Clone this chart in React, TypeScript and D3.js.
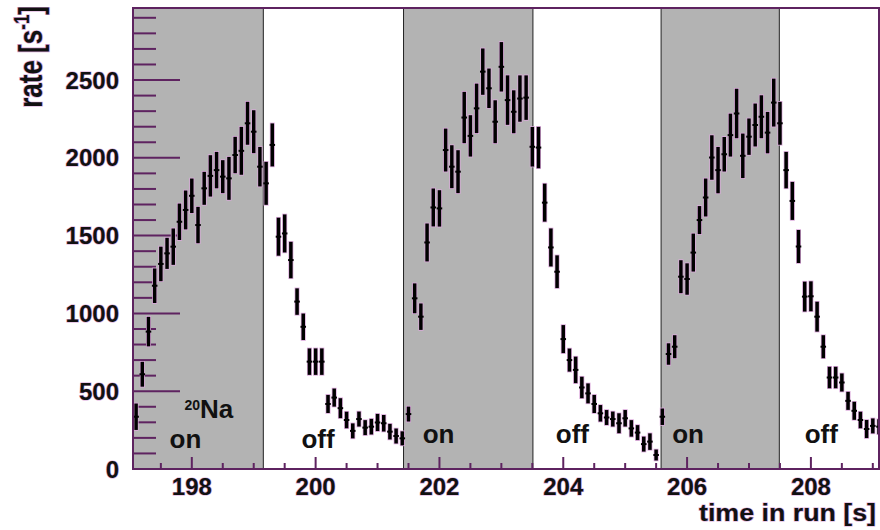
import React from "react";
import * as d3 from "d3";

// histogram: bin centres at binStart + binWidth*(k+0.5)
const binStart = 197.05;
const binWidth = 0.1;

const rates = [
  336, 609, 883, 1178, 1318, 1386, 1429, 1589, 1665, 1756,
  1568, 1804, 1884, 1921, 1879, 1868, 2018, 2045, 2222, 2168,
  1943, 1836, 2083, 1493, 1514, 1343, 1076, 914, 690, 690,
  690, 418, 459, 391, 315, 245, 321, 266, 272, 299,
  294, 240, 212, 197, 353, 1097, 979, 1456, 1681, 1675,
  2050, 1943, 1911, 2259, 2141, 2318, 2554, 2447, 2232, 2585,
  2371, 2296, 2381, 2387, 2071, 2066, 1712, 1424, 1268, 835,
  700, 637, 524, 486, 418, 358, 331, 321, 294, 326,
  261, 234, 160, 176, 90, 336, 739, 786, 1236, 1221,
  1391, 1600, 1745, 2002, 1921, 2023, 2146, 2285, 2013, 2136,
  2211, 2264, 2162, 2355, 2222, 1921, 1723, 1430, 1108, 1110,
  979, 786, 588, 588, 556, 438, 374, 315, 257, 277,
  272,
];

const errors = [
  85, 80, 95, 111, 111, 100, 117, 117, 125, 111,
  117, 106, 133, 117, 106, 138, 117, 154, 138, 138,
  127, 138, 138, 122, 122, 117, 85, 85, 85, 85,
  85, 58, 58, 64, 53, 48, 48, 48, 50, 55,
  53, 50, 48, 45, 48, 96, 85, 122, 122, 117,
  138, 138, 138, 165, 133, 159, 149, 127, 138, 159,
  159, 138, 149, 143, 127, 133, 122, 122, 105, 90,
  74, 85, 69, 64, 58, 53, 48, 48, 64, 53,
  53, 48, 48, 53, 35, 53, 69, 74, 106, 101,
  122, 90, 122, 143, 149, 111, 138, 159, 143, 117,
  138, 138, 133, 154, 138, 117, 122, 106, 96, 96,
  96, 74, 69, 69, 58, 58, 58, 53, 58, 48,
  48,
];

const beamOnStart = [196.9, 201.42, 205.58];
const beamOnEnd = [199.155, 203.51, 207.49];

const stateTexts = ["on", "off", "on", "off", "on", "off"];
const stateTimes = [197.64, 199.77, 201.73, 203.88, 205.76, 207.9];

const xMajorTicks = [198, 200, 202, 204, 206, 208];
const yMajorTicks = [0, 500, 1000, 1500, 2000, 2500];

const W = 880;
const H = 530;
const L = 133, R = 879, T = 8, B = 469;

const AXIS = "#5e2360";
const HALO = "#dba8db";

export default function App() {
  const x = d3.scaleLinear().domain([197.05, 209.1]).range([L, R]);
  const y = d3.scaleLinear().domain([0, 2963]).range([B, T]);

  const xMinor = d3.range(197.5, 209.01, 0.5).filter((t) => Math.abs(t / 2 - Math.round(t / 2)) > 1e-6);
  const yMinor = d3.range(100, 2950, 100).filter((v) => v % 500 !== 0);

  const pts = rates.map((v, k) => ({ t: binStart + binWidth * (k + 0.5), v, e: errors[k] }));

  const textHalo = { stroke: HALO, strokeWidth: 1.2, paintOrder: "stroke" as const };

  return (
    <svg width={W} height={H} style={{ position: "absolute", left: 0, top: 0, background: "#fff" }}
      fontFamily="'Liberation Sans', Arial, Helvetica, sans-serif">
      <defs>
        <clipPath id="plot">
          <rect x={L} y={T} width={R - L} height={B - T} />
        </clipPath>
      </defs>
      <rect x={0} y={0} width={W} height={H} fill="#fff" />
      <g clipPath="url(#plot)">
        {beamOnStart.map((s, i) => (
          <rect key={i} x={x(s)} y={T} width={x(beamOnEnd[i]) - x(s)} height={B - T} fill="#b3b3b3" />
        ))}
        {beamOnStart.map((s, i) => (
          <g key={"b" + i}>
            <line x1={x(s)} x2={x(s)} y1={T} y2={B} stroke="#222" strokeWidth={1} />
            <line x1={x(beamOnEnd[i])} x2={x(beamOnEnd[i])} y1={T} y2={B} stroke="#222" strokeWidth={1} />
          </g>
        ))}
      </g>

      {/* y ticks */}
      {yMajorTicks.map((v) => (
        <line key={"ym" + v} x1={L} x2={L + 47} y1={y(v)} y2={y(v)} stroke={AXIS} strokeWidth={2} />
      ))}
      {yMinor.map((v) => (
        <line key={"yn" + v} x1={L} x2={L + 23} y1={y(v)} y2={y(v)} stroke={AXIS} strokeWidth={2} />
      ))}
      {/* x ticks */}
      {xMajorTicks.map((t) => (
        <line key={"xm" + t} x1={x(t)} x2={x(t)} y1={B} y2={B - 12} stroke={AXIS} strokeWidth={2} />
      ))}
      {xMinor.map((t) => (
        <line key={"xn" + t} x1={x(t)} x2={x(t)} y1={B} y2={B - 6} stroke={AXIS} strokeWidth={2} />
      ))}

      {/* data */}
      <g clipPath="url(#plot)">
        {pts.map((p, k) => (
          <g key={"h" + k}>
            <line x1={x(p.t)} x2={x(p.t)} y1={y(p.v - p.e) + 0.8} y2={y(p.v + p.e) - 0.8} stroke={HALO} strokeWidth={5} />
          </g>
        ))}
        {pts.map((p, k) => (
          <g key={"p" + k}>
            <line x1={x(p.t)} x2={x(p.t)} y1={y(p.v - p.e)} y2={y(p.v + p.e)} stroke="#000" strokeWidth={3.5} />
            <line x1={x(p.t - 0.045)} x2={x(p.t + 0.045)} y1={y(p.v)} y2={y(p.v)} stroke="#000" strokeWidth={2} />
          </g>
        ))}
      </g>

      {/* frame */}
      <rect x={L} y={T} width={R - L} height={B - T} fill="none" stroke={AXIS} strokeWidth={2} />

      {/* tick labels */}
      {yMajorTicks.map((v) => (
        <text key={"yl" + v} x={119} y={y(v) + 8.5} textAnchor="end" fontSize={24} fontWeight="bold" fill="#111" {...textHalo}>
          {v}
        </text>
      ))}
      {xMajorTicks.map((t) => (
        <text key={"xl" + t} x={x(t)} y={495} textAnchor="middle" fontSize={24} fontWeight="bold" fill="#111" {...textHalo}>
          {t}
        </text>
      ))}

      {/* axis titles */}
      <text x={876} y={521} textAnchor="end" fontSize={23} fontWeight="bold" fill="#111" textLength={177} lengthAdjust="spacingAndGlyphs" {...textHalo}>
        time in run [s]
      </text>
      <text transform="translate(42,6) scale(1.3,1) rotate(-90)" textAnchor="end" fontSize={26} fontWeight="bold" fill="#111" {...textHalo}>
        rate [s<tspan fontSize={17} dy={-10}>-1</tspan><tspan dy={10}>]</tspan>
      </text>

      {/* annotations */}
      <text x={184.5} y={410} fontSize={14} fontWeight="bold" fill="#111">20</text>
      <text x={200} y={418} fontSize={26} fontWeight="bold" fill="#111">Na</text>
      {stateTexts.map((s, i) => (
        <text key={"s" + i} x={x(stateTimes[i])} y={i < 2 ? 448 : 443} fontSize={26} fontWeight="bold" fill="#111">
          {s}
        </text>
      ))}
    </svg>
  );
}
